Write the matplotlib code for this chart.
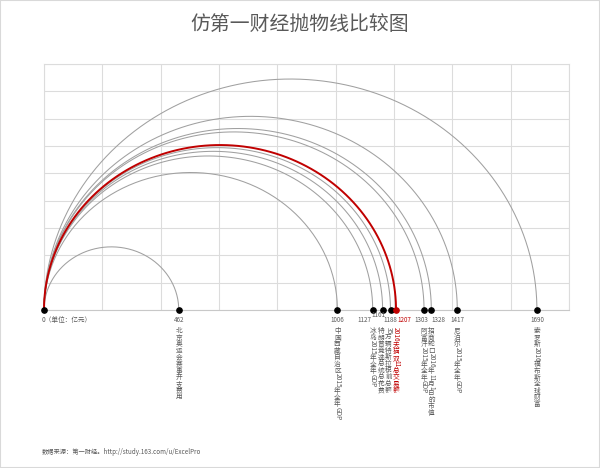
import re
import numpy as np
import matplotlib
matplotlib.use("Agg")
import matplotlib.pyplot as plt
from matplotlib.patches import Rectangle

plt.rcParams["font.family"] = ["Noto Sans CJK SC", "DejaVu Sans"]

# data (单位：亿元)
values = [462, 1006, 1127, 1161, 1188, 1207, 1303, 1328, 1417, 1690]
names = [
    "北京奥运会赛事开支费用",
    "中国西藏自治区2015年全年GDP",
    "冰岛2015年全年GDP",
    "特朗普竞选总统总花费",
    "35万辆特斯拉税前总额",
    "2016天猫双11总交易额",
    "阿富汗2015年全年GDP",
    "招商蛇口2016年11月1日的市值",
    "尼泊尔2015年全年GDP",
    "索罗斯2016福布斯全球财富",
]
highlight = 1207

gray_txt = "#595959"
red = "#c00000"
arc_gray = "#a0a0a0"
grid_c = "#dcdcdc"

fig = plt.figure(figsize=(6, 4.68), dpi=100)
fig.patches.append(Rectangle((0, 0), 1, 1, transform=fig.transFigure,
                             fill=False, edgecolor="#d9d9d9", lw=1.5))
ax = fig.add_axes([44 / 600, 1 - 310 / 468, 525 / 600, 246 / 468])
ax.set_xlim(0, 1800)
ax.set_ylim(0, 900)
ax.set_xticks(np.arange(0, 1801, 200))
ax.set_yticks(np.arange(0, 901, 100))
ax.grid(True, color=grid_c, lw=0.8)
ax.tick_params(length=0, labelbottom=False, labelleft=False)
for s in ax.spines.values():
    s.set_color(grid_c)
    s.set_linewidth(0.8)
ax.spines["bottom"].set_color("#c8c8c8")

theta = np.linspace(0, np.pi, 200)
for v in values:
    r = v / 2
    is_hl = v == highlight
    ax.plot(r - r * np.cos(theta), r * np.sin(theta),
            color=red if is_hl else arc_gray, lw=1.4 if is_hl else 0.75,
            zorder=4 if is_hl else 3, clip_on=False)

ax.plot([0], [0], "o", color="black", ms=3.8, zorder=5, clip_on=False)
for v in values:
    ax.plot([v], [0], "o", color=red if v == highlight else "black",
            ms=3.8, zorder=5, clip_on=False)

fig.canvas.draw()
renderer = fig.canvas.get_renderer()

fs = 4.8
fs_num = 4.5
em = 6.6  # px per CJK char

# number label offsets (px) to avoid overlap
num_dx = {1127: -8, 1161: -4, 1188: 0, 1207: 8, 1303: -3, 1328: 7}
num_up = {1161: 5}
col_dx = {1161: -2, 1188: -2}

ax.annotate("0（单位：亿元）", (0, 0), xytext=(-2, -10), textcoords="offset pixels",
            ha="left", va="center", fontsize=fs, color=gray_txt, annotation_clip=False)


def vertical_label(x, label, color, dx=0, top=17):
    y = -top
    for seg in re.findall(r"[A-Za-z0-9]+|.", label):
        if seg.isascii():
            t = ax.annotate(seg, (x, 0), xytext=(dx, y), textcoords="offset pixels",
                            rotation=-90, ha="center", va="top", fontsize=fs,
                            color=color, annotation_clip=False)
            y -= t.get_window_extent(renderer).height - 1
        else:
            ax.annotate(seg, (x, 0), xytext=(dx, y), textcoords="offset pixels",
                        ha="center", va="top", fontsize=fs, color=color,
                        annotation_clip=False)
            y -= em


for v, name in zip(values, names):
    c = red if v == highlight else gray_txt
    ax.annotate(str(v), (v, 0), xytext=(num_dx.get(v, 0), -10 + num_up.get(v, 0)),
                textcoords="offset pixels", ha="center", va="center",
                fontsize=fs_num, color=c, annotation_clip=False, zorder=6)
    vertical_label(v, name, c, dx=col_dx.get(v, 0))

fig.text(0.5, 1 - 25 / 468, "仿第一财经抛物线比较图", ha="center", va="center",
         fontsize=14.3, color=gray_txt)
fig.text(42 / 600, 1 - 452 / 468, "数据来源：第一财经。http://study.163.com/u/ExcelPro",
         ha="left", va="center", fontsize=4.5, color=gray_txt)

fig.savefig("out.png", dpi=100)
